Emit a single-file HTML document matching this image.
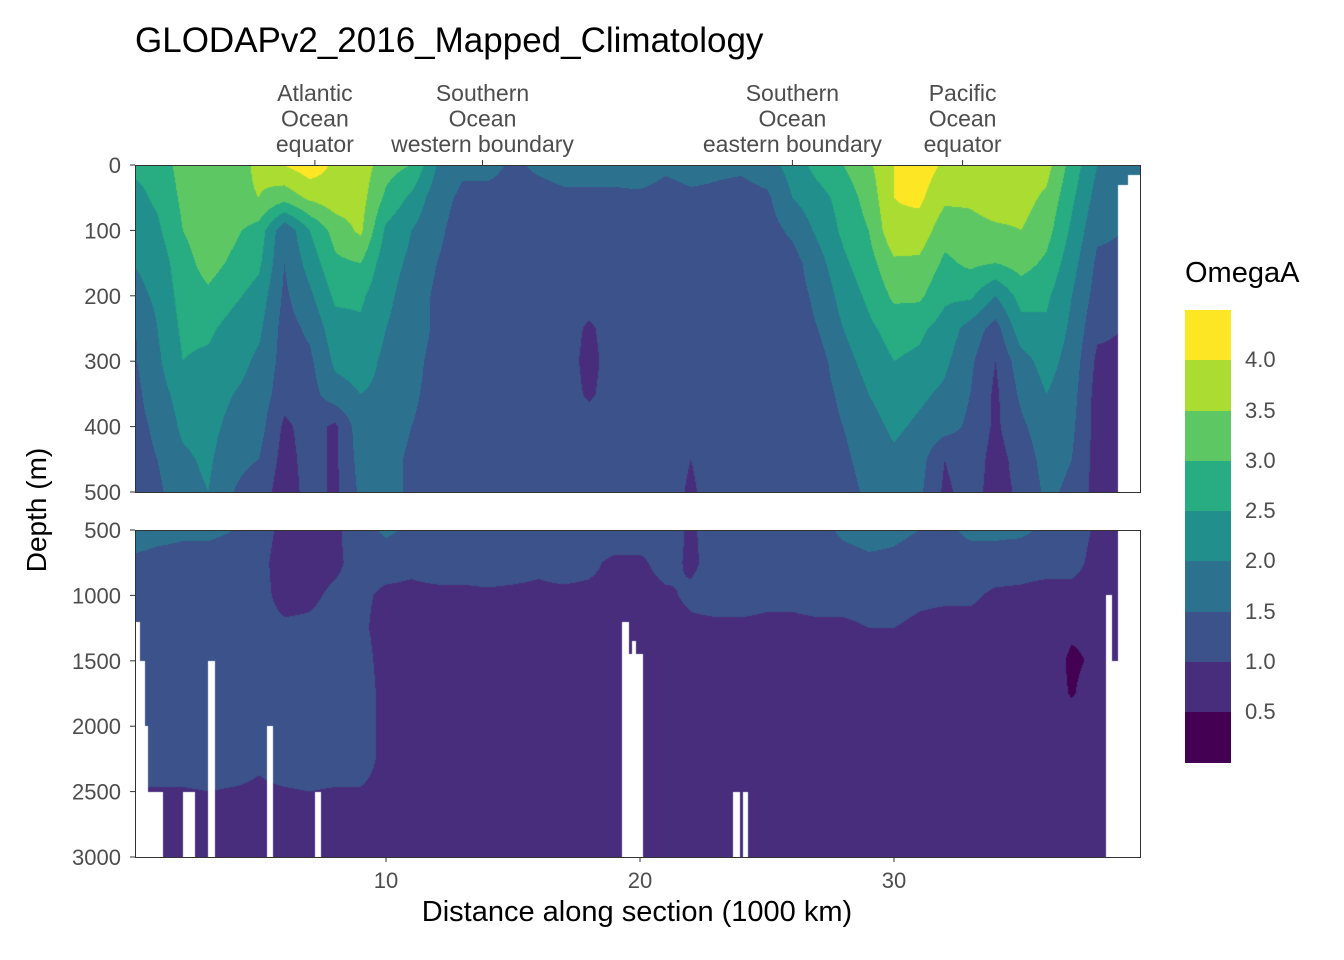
<!DOCTYPE html>
<html><head><meta charset="utf-8">
<style>
body{margin:0;background:#fff;width:1344px;height:960px;position:relative;overflow:hidden;font-family:"Liberation Sans",sans-serif;}
.abs{position:absolute;}
canvas{position:absolute;}
.panel{position:absolute;border:1px solid #333;box-sizing:border-box;pointer-events:none;}
</style></head><body>
<div class="abs" style="left:135px;top:21px;font-size:35px;color:#000;">GLODAPv2_2016_Mapped_Climatology</div>

<canvas id="cTop" width="1005" height="327" style="left:135px;top:165px"></canvas>
<canvas id="cBot" width="1005" height="327" style="left:135px;top:530px"></canvas>
<div class="panel" style="left:135px;top:165px;width:1006px;height:328px"></div>
<div class="panel" style="left:135px;top:530px;width:1006px;height:328px"></div>

<svg class="abs" style="left:0;top:0" width="1344" height="960" id="axes"></svg>

<div class="abs" style="left:287px;width:700px;text-align:center;top:896px;font-size:29px;">Distance along section (1000 km)</div>
<div class="abs" style="left:-63px;top:494px;width:200px;text-align:center;font-size:28px;transform:rotate(-90deg);">Depth (m)</div>

<div class="abs" style="left:1185px;top:257px;font-size:29px;">OmegaA</div>
<div id="legend" class="abs" style="left:1185px;top:310px;width:46px;height:452px"></div>

<script>
const binEdges=[0.5,1.0,1.5,2.0,2.5,3.0,3.5,4.0];
const binColors=["#440154","#472D7B","#3B528B","#2C728E","#21908C","#27AD81","#5DC863","#AADC32","#FDE725"];
const legendLabels=["4.0","3.5","3.0","2.5","2.0","1.5","1.0","0.5"];
const xTicks=[10,20,30];
const topDepthTicks=[0,100,200,300,400,500];
const botDepthTicks=[500,1000,1500,2000,2500,3000];
const sectionLabels=[["Atlantic","Ocean","equator"],["Southern","Ocean","western boundary"],["Southern","Ocean","eastern boundary"],["Pacific","Ocean","equator"]];
const sectionPos=[7.2,13.8,26.0,32.7];
const topDepths=[0,50,100,150,200,250,300,350,400,450,500];
const botDepths=[500,750,1000,1250,1500,1750,2000,2250,2500,2750,3000];
const top0=[2.6,2.7,3.2,3.4,3.3,3.6,4.0,4.3,3.9,3.8,3.2,3.0,2.0,1.6,1.7,1.4,1.6,1.7,1.7,1.7,1.8,1.6,1.7,1.6,1.6,1.8,2.2,2.7,3.0,3.4,4.0,4.3,3.9,3.8,3.9,3.8,3.7,2.8,2.0,1.8,1.6];
const top50=[2.3,2.6,3.1,3.3,3.4,3.5,3.2,3.6,3.8,3.7,2.9,2.4,1.7,1.4,1.3,1.3,1.3,1.4,1.4,1.4,1.4,1.3,1.4,1.4,1.3,1.4,2.0,2.3,2.7,3.2,4.0,4.1,3.6,3.6,3.8,3.7,3.4,2.6,1.8,1.6,1.6];
const top100=[2.1,2.4,3.0,3.3,3.1,2.8,1.6,2.5,3.2,3.6,2.4,2.0,1.6,1.3,1.3,1.3,1.3,1.3,1.3,1.3,1.3,1.3,1.3,1.3,1.3,1.3,1.6,2.1,2.6,3.0,3.9,3.8,3.2,3.3,3.4,3.5,3.2,2.4,1.6,1.5,1.5];
const top150=[2.0,2.2,2.8,3.2,2.9,2.6,1.5,2.2,2.9,3.0,2.2,1.9,1.5,1.3,1.3,1.3,1.3,1.3,1.3,1.3,1.3,1.3,1.3,1.3,1.3,1.3,1.3,1.8,2.4,2.8,3.4,3.4,2.9,3.1,3.0,3.2,2.9,2.2,1.4,1.4,1.4];
const top200=[1.8,2.1,2.7,2.9,2.6,2.3,1.4,1.9,2.6,2.6,2.1,1.8,1.4,1.3,1.3,1.3,1.3,1.3,1.3,1.3,1.3,1.3,1.3,1.3,1.3,1.3,1.3,1.6,2.2,2.6,3.1,3.1,2.6,2.6,2.0,2.7,2.6,2.0,1.3,1.2,1.2];
const top250=[1.4,2.0,2.6,2.6,2.3,2.1,1.3,1.6,2.3,2.4,2.0,1.8,1.4,1.3,1.3,1.3,1.3,1.3,0.9,1.3,1.3,1.3,1.3,1.3,1.3,1.3,1.3,1.5,2.0,2.4,2.7,2.6,2.3,1.8,1.3,2.3,2.4,1.9,1.1,1.0,1.0];
const top300=[1.4,1.9,2.5,2.4,2.2,1.9,1.3,1.4,2.1,2.2,1.9,1.7,1.3,1.3,1.3,1.3,1.3,1.3,0.8,1.3,1.3,1.3,1.3,1.3,1.3,1.3,1.3,1.3,1.8,2.2,2.5,2.4,2.1,1.6,1.0,1.8,2.2,1.8,0.9,0.9,0.9];
const top350=[1.3,1.8,2.2,2.3,2.0,1.8,1.2,1.3,1.8,2.0,1.9,1.6,1.3,1.3,1.3,1.3,1.3,1.3,0.9,1.3,1.3,1.3,1.3,1.3,1.3,1.3,1.3,1.3,1.6,2.0,2.3,2.1,1.9,1.5,0.9,1.6,2.0,1.7,0.8,0.8,0.8];
const top400=[1.3,1.6,2.1,2.2,1.8,1.7,0.9,1.2,0.9,1.8,1.8,1.5,1.3,1.3,1.3,1.3,1.3,1.3,1.3,1.3,1.3,1.3,1.3,1.3,1.3,1.3,1.3,1.3,1.5,1.8,2.1,1.9,1.7,1.4,0.9,1.4,1.8,1.6,0.8,0.8,0.8];
const top450=[1.3,1.5,1.9,2.1,1.6,1.5,0.8,1.2,0.9,1.7,1.7,1.4,1.3,1.3,1.3,1.3,1.3,1.3,1.3,1.3,1.3,1.3,1.0,1.3,1.3,1.3,1.3,1.4,1.4,1.7,1.9,1.7,1.0,1.3,0.8,1.2,1.7,1.5,0.8,0.8,0.8];
const top500=[1.3,1.4,1.8,2.0,1.5,1.3,0.7,1.2,0.9,1.6,1.7,1.4,1.3,1.3,1.3,1.3,1.3,1.3,1.3,1.3,1.3,1.3,0.9,1.3,1.3,1.3,1.3,1.1,1.3,1.6,1.8,1.6,0.9,1.2,0.8,1.1,1.6,1.4,0.8,0.8,0.8];
const bot500=[1.8,1.7,1.6,1.6,1.5,1.3,0.8,0.8,0.9,1.3,1.6,1.4,1.3,1.3,1.3,1.3,1.3,1.3,1.3,1.3,1.3,1.3,0.9,1.3,1.3,1.3,1.3,1.3,1.6,1.7,1.6,1.5,1.4,1.6,1.6,1.6,1.4,1.3,0.9,0.9,0.9];
const bot750=[1.4,1.3,1.3,1.3,1.3,1.2,0.7,0.8,0.9,1.2,1.2,1.1,1.2,1.2,1.3,1.2,1.1,1.2,1.1,0.9,0.9,1.2,0.9,1.2,1.3,1.2,1.2,1.3,1.3,1.4,1.4,1.3,1.3,1.3,1.3,1.2,1.2,1.2,0.8,0.8,0.8];
const bot1000=[1.3,1.3,1.3,1.3,1.3,1.2,0.8,0.9,1.1,1.1,0.9,0.9,0.9,0.9,0.9,0.9,0.9,0.9,0.9,0.9,0.8,0.9,1.1,1.2,1.2,1.1,1.1,1.2,1.2,1.2,1.2,1.1,1.1,1.1,0.9,0.9,0.8,0.8,0.8,0.8,0.8];
const bot1250=[1.3,1.3,1.3,1.3,1.3,1.2,1.1,1.1,1.2,1.1,0.8,0.8,0.8,0.8,0.8,0.8,0.8,0.8,0.8,0.8,0.8,0.8,0.9,0.9,0.9,0.9,0.9,0.9,0.9,1.0,1.0,0.9,0.8,0.8,0.8,0.8,0.8,0.6,0.6,0.8,0.8];
const bot1500=[1.3,1.3,1.3,1.3,1.3,1.3,1.2,1.2,1.2,1.2,0.8,0.8,0.8,0.8,0.8,0.8,0.8,0.8,0.8,0.8,0.8,0.8,0.8,0.8,0.8,0.8,0.8,0.8,0.8,0.8,0.8,0.8,0.8,0.8,0.8,0.8,0.8,0.4,0.6,0.8,0.8];
const bot1750=[1.3,1.3,1.3,1.3,1.3,1.3,1.3,1.3,1.3,1.3,0.8,0.8,0.8,0.8,0.8,0.8,0.8,0.8,0.8,0.8,0.8,0.8,0.8,0.8,0.8,0.8,0.8,0.8,0.8,0.8,0.8,0.8,0.8,0.8,0.8,0.8,0.8,0.45,0.8,0.8,0.8];
const bot2000=[1.3,1.3,1.3,1.3,1.3,1.3,1.3,1.3,1.3,1.3,0.8,0.8,0.8,0.8,0.8,0.8,0.8,0.8,0.8,0.8,0.8,0.8,0.8,0.8,0.8,0.8,0.8,0.8,0.8,0.8,0.8,0.8,0.8,0.8,0.8,0.8,0.8,0.8,0.8,0.8,0.8];
const bot2250=[1.3,1.3,1.3,1.3,1.3,1.1,1.3,1.3,1.3,1.3,0.8,0.8,0.8,0.8,0.8,0.8,0.8,0.8,0.8,0.8,0.8,0.8,0.8,0.8,0.8,0.8,0.8,0.8,0.8,0.8,0.8,0.8,0.8,0.8,0.8,0.8,0.8,0.8,0.8,0.8,0.8];
const bot2500=[0.95,0.95,0.95,1.0,0.95,0.9,0.95,1.0,0.95,0.95,0.8,0.8,0.8,0.8,0.8,0.8,0.8,0.8,0.8,0.8,0.8,0.8,0.8,0.8,0.8,0.8,0.8,0.8,0.8,0.8,0.8,0.8,0.8,0.8,0.8,0.8,0.8,0.8,0.8,0.8,0.8];
const bot2750=[0.8,0.8,0.8,0.8,0.8,0.8,0.8,0.8,0.8,0.8,0.8,0.8,0.8,0.8,0.8,0.8,0.8,0.8,0.8,0.8,0.8,0.8,0.8,0.8,0.8,0.8,0.8,0.8,0.8,0.8,0.8,0.8,0.8,0.8,0.8,0.8,0.8,0.8,0.8,0.8,0.8];
const bot3000=[0.8,0.8,0.8,0.8,0.8,0.8,0.8,0.8,0.8,0.8,0.8,0.8,0.8,0.8,0.8,0.8,0.8,0.8,0.8,0.8,0.8,0.8,0.8,0.8,0.8,0.8,0.8,0.8,0.8,0.8,0.8,0.8,0.8,0.8,0.8,0.8,0.8,0.8,0.8,0.8,0.8];
const gapsTop=[[38.8,40,30],[39.2,40,15]];
const gapsBot=[[0.1,1.22,2500],[0.1,0.3,1200],[0.1,0.5,1500],[0.1,0.63,2000],[2.0,2.5,2500],[3.0,3.25,1500],[5.3,5.55,2000],[7.2,7.45,2500],[19.3,19.55,1200],[19.55,20.1,1450],[19.7,19.85,1350],[23.66,23.94,2500],[24.06,24.25,2500],[38.35,38.6,1000],[38.6,38.8,1500],[38.8,40,500]];

const topGrid=[top0,top50,top100,top150,top200,top250,top300,top350,top400,top450,top500];
const botGrid=[bot500,bot750,bot1000,bot1250,bot1500,bot1750,bot2000,bot2250,bot2500,bot2750,bot3000];

const X0=132, PXK=25.4, PL=135;
function xScale(v){return X0+v*PXK;}
function yTop(d){return 165+d*0.654;}
function yBot(d){return 530+(d-500)*0.1308;}
function hex(c){return [parseInt(c.substr(1,2),16),parseInt(c.substr(3,2),16),parseInt(c.substr(5,2),16)];}
const rgb=binColors.map(hex);
function binIdx(v){let i=0;while(i<binEdges.length&&v>=binEdges[i])i++;return i;}

function drawPanel(id,grid,depths,yFn,gaps){
  const cv=document.getElementById(id),ctx=cv.getContext('2d');
  const W=cv.width,H=cv.height,img=ctx.createImageData(W,H);
  const y0=yFn(depths[0]),y1=yFn(depths[depths.length-1]);
  for(let py=0;py<H;py++){
    const Y=y0+py+0.5;
    let d=depths[0]+(depths[depths.length-1]-depths[0])*(Y-y0)/(y1-y0);
    let r=0;while(r<depths.length-2&&d>depths[r+1])r++;
    const fy=Math.max(0,Math.min(1,(d-depths[r])/(depths[r+1]-depths[r])));
    for(let px=0;px<W;px++){
      const xv=(PL+px+0.5-X0)/PXK;
      let c=Math.max(0,Math.min(39,Math.floor(xv)));const fx=Math.max(0,Math.min(1,xv-c));
      const v=(grid[r][c]*(1-fx)+grid[r][c+1]*fx)*(1-fy)+(grid[r+1][c]*(1-fx)+grid[r+1][c+1]*fx)*fy;
      let col=rgb[binIdx(v)];
      for(const g of gaps){if(xv>=g[0]&&xv<g[1]&&d>=g[2]){col=[255,255,255];break;}}
      const k=(py*W+px)*4;img.data[k]=col[0];img.data[k+1]=col[1];img.data[k+2]=col[2];img.data[k+3]=255;
    }
  }
  ctx.putImageData(img,0,0);
}
drawPanel('cTop',topGrid,topDepths,yTop,gapsTop);
drawPanel('cBot',botGrid,botDepths,yBot,gapsBot);

const svg=document.getElementById('axes');const NS='http://www.w3.org/2000/svg';
function mk(tag,attrs){const e=document.createElementNS(NS,tag);for(const k in attrs)e.setAttribute(k,attrs[k]);svg.appendChild(e);return e;}
function tickY(list,yFn,nm){list.forEach(d=>{
  const y=yFn(d);
  const l=mk('line',{x1:130,x2:135,y1:y,y2:y,stroke:'#333','stroke-width':1});
  
  
  const t=mk('text',{x:121,y:y+8,'text-anchor':'end','font-size':22,fill:'#4d4d4d','font-family':'Liberation Sans, sans-serif'});
  t.textContent=d;
  
  
});}
tickY(topDepthTicks,yTop,'top-y');
tickY(botDepthTicks,yBot,'bottom-y');
xTicks.forEach(v=>{
  const x=xScale(v);
  const l=mk('line',{x1:x,x2:x,y1:857,y2:862,stroke:'#333','stroke-width':1});
  
  
  const t=mk('text',{x:x,y:888,'text-anchor':'middle','font-size':22,fill:'#4d4d4d','font-family':'Liberation Sans, sans-serif'});
  t.textContent=v;
  
  
});
sectionPos.forEach((v,i)=>{
  const x=xScale(v);
  const l=mk('line',{x1:x,x2:x,y1:160,y2:165,stroke:'#333','stroke-width':1});
  
  
  sectionLabels[i].forEach((s,j)=>{
    const t=mk('text',{x:x,y:101+j*25.5,'text-anchor':'middle','font-size':23,fill:'#4d4d4d','font-family':'Liberation Sans, sans-serif'});
    t.textContent=s;
    
    
  });
});
const lg=document.getElementById('legend');
binColors.slice().reverse().forEach((c,i)=>{
  const b=document.createElement('div');
  
  
  b.style.cssText='position:absolute;left:0;width:46px;top:'+(i*50.25)+'px;height:50.6px;background:'+c;
  lg.appendChild(b);
});
legendLabels.forEach((s,i)=>{
  const t=document.createElement('div');
  
  
  t.style.cssText='position:absolute;left:60px;top:'+((i+1)*50.25-13)+'px;color:#4d4d4d;font-size:22px;';
  t.textContent=s;
  lg.appendChild(t);
});
</script>
</body></html>
